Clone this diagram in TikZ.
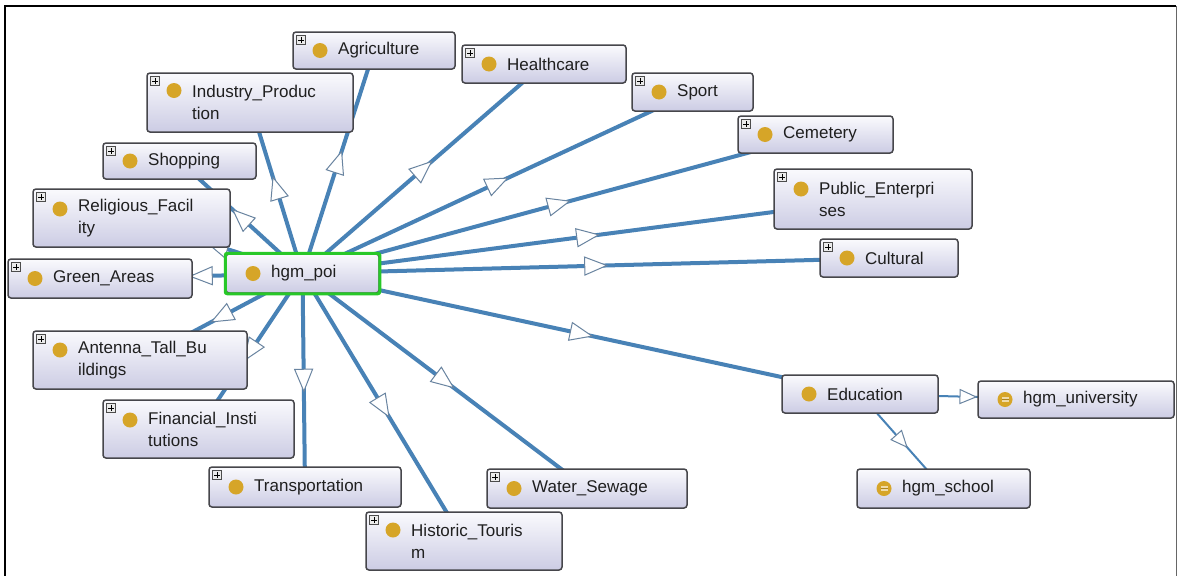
\documentclass[tikz,border=0pt]{standalone}
\usepackage{fontspec}
\setmainfont{Liberation Sans}
\usetikzlibrary{backgrounds,decorations.markings,calc}
\definecolor{edgeblue}{RGB}{72,130,182}
\definecolor{arrowline}{RGB}{105,132,160}
\definecolor{gold}{RGB}{214,165,40}
\definecolor{boxtop}{RGB}{250,250,253}
\definecolor{boxbot}{RGB}{204,204,228}
\definecolor{boxline}{RGB}{70,70,75}
\definecolor{poigreen}{RGB}{40,200,40}
\tikzset{
  cls/.style={draw=boxline, line width=1.5pt, rounded corners=3pt, top color=boxtop, bottom color=boxbot, inner sep=0pt},
  dot/.style={circle, fill=gold, minimum size=15pt, inner sep=0pt},
  idot/.style={dot, path picture={
      \fill[gold!40!white] ($(path picture bounding box.center)+(-3.5pt,-2.5pt)$) rectangle +(7pt,5pt);
      \draw[gold!80!black, line width=0.6pt] ($(path picture bounding box.center)+(-3.5pt,0pt)$) -- +(7pt,0pt);}},
  lbl/.style={anchor=west, inner sep=0pt, align=left, font=\fontsize{17}{22}\selectfont, text=black!88},
  plusicon/.style={draw=black!70, fill=black!8, line width=0.6pt, minimum size=9pt, inner sep=0pt, anchor=north west,
    path picture={\draw[black, line width=0.8pt] ($(path picture bounding box.center)+(-2.6pt,0pt)$) -- +(5.2pt,0pt)
      ($(path picture bounding box.center)+(0pt,-2.6pt)$) -- +(0pt,5.2pt);}},
  isaedge/.style={draw=edgeblue, line width=4pt, postaction={decorate}, decoration={markings,
      mark=at position 0.5 with {\filldraw[fill=white, draw=arrowline, line width=1pt] (11pt,0pt) -- (-11pt,9pt) -- (-11pt,-9pt) -- cycle;}}},
  subedge/.style={draw=edgeblue, line width=2pt, postaction={decorate}, decoration={markings,
      mark=at position 0.5 with {\filldraw[fill=white, draw=arrowline, line width=1pt] (8pt,0pt) -- (-8pt,7pt) -- (-8pt,-7pt) -- cycle;}}},
}
% #1 icon style, #2 name, #3 x1, #4 y1, #5 x2, #6 y2, #7 icon offset up, #8 text
\newcommand\clsnode[8][dot]{%
  \pgfmathsetmacro\cw{#5-#3}%
  \pgfmathsetmacro\ch{#6-#4}%
  \pgfmathsetmacro\cx{(#3+#5)/2}%
  \pgfmathsetmacro\cy{(#4+#6)/2}%
  \node[cls, minimum width=\cw pt, minimum height=\ch pt] (#2) at (\cx,\cy) {};
  \node[#1] (#2-i) at (#3+27,\cy-#7) {};
  \node[lbl] (#2-t) at (#3+45,\cy) {#8};
}
\newcommand\plusat[1]{\node[plusicon] (#1-p) at ([xshift=4pt,yshift=-4pt]#1.north west) {};}

\begin{document}
\begin{tikzpicture}[x=1pt,y=-1pt]
\useasboundingbox (0,0) rectangle (1179,576);
\begin{scope}[on background layer]
  \fill[white] (0,0) rectangle (1179,576);
\end{scope}
\draw[black, line width=1.8pt] (5,576) -- (5,6) -- (1176,6);
\draw[black!60, line width=1pt] (1176,6) -- (1176,576);

\clsnode{agri}{293}{32}{455}{69}{0}{Agriculture}
\clsnode{ind}{147}{73}{353}{132}{12}{Industry\_Produc\\tion}
\clsnode{shop}{103}{143}{256}{179}{0}{Shopping}
\clsnode{rel}{33}{189}{230}{247}{9}{Religious\_Facil\\ity}
\clsnode{green}{8}{259}{192}{298}{0}{Green\_Areas}
\clsnode{poi}{226}{254}{379}{293}{0}{hgm\_poi}
\draw[poigreen, line width=3pt, rounded corners=2pt] (poi.north west) rectangle (poi.south east);
\clsnode{health}{462}{45}{626}{83}{0}{Healthcare}
\clsnode{sport}{632}{73}{753}{111}{0}{Sport}
\clsnode{cem}{738}{116}{893}{153}{0}{Cemetery}
\clsnode{pub}{774}{169}{972}{229}{10}{Public\_Enterpri\\ses}
\clsnode{cult}{820}{239}{958}{277}{0}{Cultural}
\clsnode{edu}{782}{375}{938}{413}{0}{Education}
\clsnode[idot]{univ}{978}{381}{1174}{418}{0}{hgm\_university}
\clsnode[idot]{school}{857}{469}{1030}{508}{0}{hgm\_school}
\clsnode{ant}{33}{331}{247}{389}{10}{Antenna\_Tall\_Bu\\ildings}
\clsnode{fin}{103}{400}{294}{458}{9}{Financial\_Insti\\tutions}
\clsnode{trans}{209}{467}{401}{507}{0}{Transportation}
\clsnode{hist}{366}{512}{562}{570}{11}{Historic\_Touris\\m}
\clsnode{water}{487}{469}{687}{508}{0}{Water\_Sewage}

\foreach \n in {agri,ind,shop,rel,green,health,sport,cem,pub,cult,ant,fin,trans,hist,water}
  {\plusat{\n}}

\begin{scope}[on background layer]
  \foreach \t in {agri,ind,shop,rel,green,health,sport,cem,pub,cult,edu,ant,fin,trans,hist,water}
    {\draw[isaedge] (poi.center) -- (\t.center);}
  \draw[subedge] (edu.center) -- (univ.center);
  \draw[subedge] (edu.center) -- (school.center);
\end{scope}
\end{tikzpicture}
\end{document}
